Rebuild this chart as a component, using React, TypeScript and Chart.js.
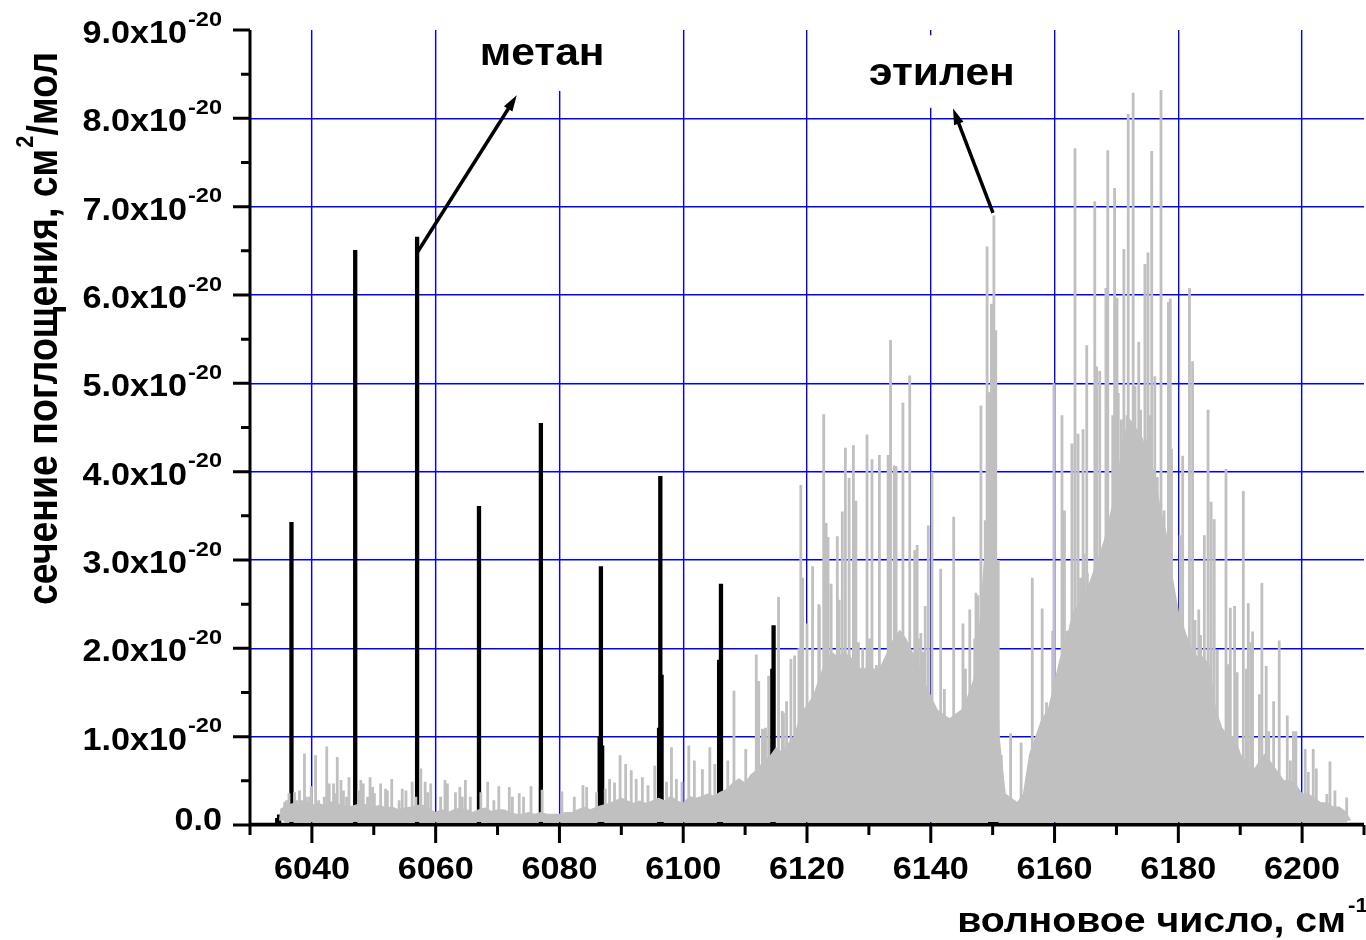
import { useEffect, useRef } from "react";
import { Chart, registerables } from "chart.js";

Chart.register(...registerables);

// ---------- axis ticks / labels ----------
const xTickValues = [6040, 6060, 6080, 6100, 6120, 6140, 6160, 6180, 6200];
const xTickLabels = ["6040", "6060", "6080", "6100", "6120", "6140", "6160", "6180", "6200"];
const yTickValues = [0, 1, 2, 3, 4, 5, 6, 7, 8, 9];
const yTickLabels = ["0.0", "1.0x10", "2.0x10", "3.0x10", "4.0x10", "5.0x10", "6.0x10", "7.0x10", "8.0x10", "9.0x10"];
const yTickExponent = "-20";
const xTitle = "волновое число, см";
const xTitleSup = "-1";
const yTitleA = "сечение поглощения, см";
const yTitleSup = "2";
const yTitleB = "/мол";

// ---------- methane (black) lines, units of 1e-20 ----------
const methaneX = [6034.4, 6034.7, 6036.7, 6047.0, 6057.0, 6067.0, 6077.0, 6086.5, 6086.7, 6086.9, 6096.1, 6096.3, 6096.5, 6105.8, 6106.1, 6114.4, 6114.6, 6149.6, 6150.1, 6150.6];
const methaneY = [0.08, 0.12, 3.43, 6.51, 6.66, 3.61, 4.55, 1.0, 2.93, 0.9, 1.1, 3.95, 1.7, 1.87, 2.73, 1.77, 2.26, 0.14, 0.19, 0.13];

// ---------- ethylene (grey) strong peaks ----------
const ethylenePeakX = [
  6035.6, 6036.3, 6037.2, 6038.0, 6038.8, 6039.6, 6039.9, 6040.6, 6042.4, 6043.5, 6044.1, 6044.7, 6046.0,
  6047.6, 6048.3, 6049.0, 6049.4, 6050.1, 6051.1, 6051.9, 6052.9, 6054.6, 6056.2, 6057.6, 6058.3, 6059.2,
  6060.8, 6061.5, 6063.2, 6063.9, 6064.8, 6065.6, 6067.3, 6068.4, 6070.2, 6071.9, 6073.5, 6075.4, 6077.2,
  6080.4, 6082.4, 6083.8, 6084.4, 6086.0, 6087.4, 6088.1, 6088.9, 6089.8, 6090.7, 6091.6, 6092.4, 6093.4,
  6094.3, 6095.4, 6097.3, 6098.1, 6098.9, 6099.8, 6100.9, 6101.8, 6103.1, 6104.3, 6105.1, 6107.2, 6108.2,
  6110.1, 6111.8, 6112.2, 6112.8, 6113.3, 6113.8, 6115.4, 6116.2, 6116.7, 6118.0, 6119.0, 6119.3, 6120.0,
  6120.9, 6122.0, 6122.7, 6123.1, 6123.4, 6123.9, 6124.9, 6125.7, 6126.2, 6126.8, 6127.5, 6127.9, 6129.0,
  6129.7, 6130.5, 6131.7, 6132.3, 6133.1, 6133.5, 6134.4, 6135.5, 6136.6, 6137.4, 6137.8, 6138.4, 6139.6,
  6140.2, 6141.6, 6143.7, 6145.2, 6146.3, 6147.3, 6148.1, 6148.8, 6149.1, 6149.5, 6149.8, 6150.2, 6150.5,
  6150.9, 6151.4, 6152.9, 6154.6, 6156.4, 6158.0, 6159.7, 6159.9, 6161.2, 6161.6, 6162.3, 6162.8, 6163.3,
  6163.8, 6164.6, 6165.2, 6166.5, 6167.3, 6168.3, 6168.6, 6169.7, 6170.1, 6171.2, 6171.9, 6172.7, 6173.6,
  6174.6, 6175.1, 6175.7, 6177.2, 6178.4, 6178.7, 6180.7, 6181.8, 6182.3, 6183.3, 6184.2, 6184.8, 6185.3,
  6185.8, 6187.7, 6188.4, 6189.1, 6190.5, 6191.3, 6192.0, 6193.5, 6194.2, 6195.4, 6196.3, 6197.6, 6199.0,
  6200.5, 6201.8, 6204.5, 6207.2,
];
const ethylenePeakY = [
  0.26, 0.36, 0.37, 0.39, 0.81, 0.32, 0.44, 0.79, 0.89, 0.47, 0.77, 0.51, 0.54,
  0.39, 0.47, 0.32, 0.54, 0.36, 0.47, 0.41, 0.52, 0.41, 0.49, 0.64, 0.49, 0.47,
  0.32, 0.51, 0.37, 0.43, 0.51, 0.32, 0.37, 0.49, 0.44, 0.43, 0.36, 0.44, 0.40,
  0.38, 0.32, 0.45, 0.43, 0.37, 0.41, 0.52, 0.48, 0.79, 0.69, 0.62, 0.52, 0.54,
  0.45, 0.67, 0.49, 0.88, 0.52, 0.49, 0.90, 0.73, 0.63, 0.88, 0.69, 0.73, 1.52,
  0.86, 1.93, 1.63, 1.09, 1.10, 1.69, 2.58, 1.27, 1.40, 1.92, 3.85, 2.80, 2.28,
  2.93, 2.48, 4.65, 3.42, 3.26, 2.73, 3.27, 3.55, 4.27, 3.93, 4.30, 3.67, 2.00,
  4.42, 4.14, 4.19, 1.77, 4.19, 5.49, 4.06, 4.78, 5.09, 3.11, 3.17, 2.17, 3.39,
  4.00, 2.90, 3.49, 2.28, 2.44, 2.63, 4.75, 3.45, 6.55, 4.90, 5.90, 6.90, 5.60,
  3.00, 0.79, 1.04, 0.93, 2.80, 2.45, 2.20, 5.00, 4.64, 3.56, 2.20, 4.32, 7.66,
  4.43, 4.48, 5.43, 7.06, 5.14, 6.08, 7.64, 7.21, 5.97, 6.52, 8.05, 8.29, 5.47,
  6.35, 6.48, 7.63, 8.32, 5.92, 5.96, 4.18, 6.08, 5.25, 2.44, 3.28, 4.70, 3.66,
  3.46, 4.03, 2.46, 2.48, 3.78, 2.51, 2.19, 2.74, 1.80, 1.40, 2.09, 1.24, 1.06,
  0.86, 0.86, 0.72, 0.31,
];

// ---------- ethylene (grey) weaker peaks ----------
const ethyleneMinorX = [
  6035.9, 6037.5, 6038.4, 6039.1, 6041.1, 6042.0, 6042.8, 6043.9, 6045.1, 6045.6, 6047.9, 6049.8, 6052.2,
  6054.1, 6055.2, 6056.8, 6058.7, 6061.9, 6064.3, 6069.4, 6072.4, 6074.2,
  6113.1, 6116.0, 6117.4, 6118.7, 6120.4, 6121.9, 6124.2, 6125.2, 6128.3, 6130.1, 6131.2, 6134.1, 6134.6,
  6135.0, 6138.0, 6138.8, 6139.1, 6142.2, 6145.6, 6147.1, 6147.6,
  6158.7, 6160.8, 6162.0, 6164.2, 6164.8, 6165.3, 6165.9, 6166.8, 6167.6, 6168.0, 6169.0, 6169.4, 6170.3,
  6170.8, 6171.7, 6172.5, 6173.0, 6173.9, 6174.3, 6174.8, 6175.4, 6176.2, 6176.6, 6177.7, 6178.1, 6178.9,
  6180.3, 6181.1, 6182.7, 6183.6, 6186.3, 6188.1, 6189.5, 6191.0, 6191.7, 6193.1, 6194.6, 6198.1, 6198.6,
  6201.0, 6202.3, 6204.0, 6205.3,
];
const ethyleneMinorY = [
  0.28, 0.28, 0.28, 0.32, 0.28, 0.32, 0.47, 0.36, 0.39, 0.32, 0.51, 0.43, 0.39,
  0.28, 0.39, 0.32, 0.37, 0.47, 0.32, 0.28, 0.32, 0.32,
  1.08, 1.29, 1.88, 2.00, 1.38, 2.50, 1.88, 2.55, 2.07, 2.11, 1.81, 4.07, 2.11,
  2.15, 2.11, 1.96, 2.48, 1.54, 1.77, 2.11, 2.60,
  1.39, 1.82, 2.20, 2.80, 3.07, 2.85, 2.58, 5.19, 2.96, 3.18, 2.80, 4.64, 4.89,
  4.59, 4.64, 4.32, 4.97, 4.70, 3.94, 4.37, 4.64, 5.08, 3.94, 3.56, 2.75, 4.26,
  3.28, 2.15, 2.32, 2.15, 1.98, 1.82, 1.73, 1.77, 2.07, 1.48, 1.06, 0.73, 1.06,
  0.60, 0.64, 0.35, 0.39,
];

// ---------- ethylene dense band (unresolved lines), read at 1 cm-1 ----------
const ethyleneBandX = [
  6034.8, 6035, 6036, 6037, 6038, 6039, 6040, 6041, 6042, 6043, 6044, 6045, 6046, 6047, 6048, 6049,
  6050, 6051, 6052, 6053, 6054, 6055, 6056, 6057, 6058, 6059, 6060, 6061, 6062, 6063, 6064, 6065,
  6066, 6067, 6068, 6069, 6070, 6071, 6072, 6073, 6074, 6075, 6076, 6077, 6078, 6079, 6080, 6081,
  6082, 6083, 6084, 6085, 6086, 6087, 6088, 6089, 6090, 6091, 6092, 6093, 6094, 6095, 6096, 6097,
  6098, 6099, 6100, 6101, 6102, 6103, 6104, 6105, 6106, 6107, 6108, 6109, 6110, 6111, 6112, 6113,
  6114, 6115, 6116, 6117, 6118, 6119, 6120, 6121, 6122, 6123, 6124, 6125, 6126, 6127, 6128, 6129,
  6130, 6131, 6132, 6133, 6134, 6135, 6136, 6137, 6138, 6139, 6140, 6141, 6142, 6143, 6144, 6145,
  6146, 6147, 6148, 6149, 6150, 6151, 6152, 6153, 6154, 6155, 6156, 6157, 6158, 6159, 6160, 6161,
  6162, 6163, 6164, 6165, 6166, 6167, 6168, 6169, 6170, 6171, 6172, 6173, 6174, 6175, 6176, 6177,
  6178, 6179, 6180, 6181, 6182, 6183, 6184, 6185, 6186, 6187, 6188, 6189, 6190, 6191, 6192, 6193,
  6194, 6195, 6196, 6197, 6198, 6199, 6200, 6201, 6202, 6203, 6204, 6205, 6206, 6207, 6207.8,
];
const ethyleneBandY = [
  0.05, 0.18, 0.22, 0.24, 0.22, 0.26, 0.22, 0.24, 0.22, 0.26, 0.24, 0.22, 0.2, 0.22, 0.24, 0.22,
  0.2, 0.22, 0.19, 0.2, 0.17, 0.19, 0.2, 0.22, 0.22, 0.17, 0.14, 0.17, 0.14, 0.17, 0.19, 0.17,
  0.14, 0.17, 0.19, 0.15, 0.17, 0.17, 0.14, 0.12, 0.12, 0.14, 0.12, 0.14, 0.12, 0.12, 0.12, 0.14,
  0.14, 0.17, 0.2, 0.17, 0.2, 0.22, 0.24, 0.27, 0.3, 0.27, 0.24, 0.27, 0.24, 0.27, 0.3, 0.27,
  0.32, 0.27, 0.24, 0.32, 0.3, 0.32, 0.35, 0.32, 0.37, 0.4, 0.47, 0.52, 0.47, 0.57, 0.62, 0.72,
  0.77, 0.87, 0.82, 0.92, 1.0, 1.25, 1.35, 1.45, 1.65, 1.85, 1.95, 1.9, 1.95, 1.9, 1.8, 1.75,
  1.8, 1.75, 1.8, 1.95, 2.1, 2.2, 2.1, 1.95, 1.8, 1.6, 1.45, 1.3, 1.25, 1.2, 1.25, 1.3,
  1.45, 1.65, 2.3, 3.3, 3.8, 1.0, 0.35, 0.3, 0.25, 0.35, 0.8, 1.0, 1.2, 1.3, 1.6, 1.9,
  2.1, 2.4, 2.5, 2.6, 2.8, 3.0, 3.2, 3.5, 3.8, 4.3, 4.6, 4.5, 4.4, 4.2, 4.0, 3.6,
  3.3, 2.8, 2.4, 2.2, 2.0, 1.9, 1.9, 1.8, 1.3, 1.1, 1.0, 1.0, 0.8, 0.7, 0.6, 0.7,
  0.8, 0.7, 0.6, 0.5, 0.5, 0.45, 0.35, 0.35, 0.3, 0.25, 0.25, 0.2, 0.2, 0.15, 0.05,
];
const ethyleneBase = 0.05;

// ---------- annotations (data coordinates) ----------
const annotationLabels = ["метан", "этилен"];
const annotationLabelX = [6077.2, 6141.8];
const annotationLabelY = [8.6, 8.38];
const annotationBoxX0 = [6064.5, 6127.8];
const annotationBoxX1 = [6090.0, 6156.0];
const annotationBoxY0 = [8.31, 8.12];
const annotationBoxY1 = [9.1, 8.94];
const arrowFromX = [6057.1, 6150.05];
const arrowFromY = [6.49, 6.93];
const arrowToX = [6073.1, 6143.6];
const arrowToY = [8.26, 8.11];

const X_MIN = 6030;
const X_MAX = 6210;
const Y_MIN = 0;
const Y_MAX = 9;

const BLUE = "#0000ff";
const GREY = "#c0c0c0";
const FONT = '"Liberation Sans", Arial, sans-serif';
const STRETCH = 1.12;

function spikes(xs: number[], ys: number[], base: number) {
  const pts: { x: number; y: number }[] = [];
  for (let i = 0; i < xs.length; i++) {
    pts.push({ x: xs[i], y: base }, { x: xs[i], y: ys[i] }, { x: xs[i], y: base });
  }
  return pts;
}

function drawText(
  ctx: CanvasRenderingContext2D,
  s: string,
  x: number,
  y: number,
  size: number,
  align: "left" | "center" | "right"
) {
  ctx.save();
  ctx.font = `bold ${size}px ${FONT}`;
  ctx.textBaseline = "alphabetic";
  ctx.textAlign = "left";
  const w = ctx.measureText(s).width * STRETCH;
  const x0 = align === "center" ? x - w / 2 : align === "right" ? x - w : x;
  ctx.translate(x0, y);
  ctx.scale(STRETCH, 1);
  ctx.fillStyle = "#000";
  ctx.fillText(s, 0, 0);
  ctx.restore();
  return w;
}

function measure(ctx: CanvasRenderingContext2D, s: string, size: number) {
  ctx.save();
  ctx.font = `bold ${size}px ${FONT}`;
  const w = ctx.measureText(s).width;
  ctx.restore();
  return w;
}

function drawArrow(ctx: CanvasRenderingContext2D, x0: number, y0: number, x1: number, y1: number) {
  const dx = x1 - x0;
  const dy = y1 - y0;
  const len = Math.hypot(dx, dy);
  const ux = dx / len;
  const uy = dy / len;
  const head = 16;
  const half = 5;
  const bx = x1 - ux * head;
  const by = y1 - uy * head;
  ctx.save();
  ctx.strokeStyle = "#000";
  ctx.fillStyle = "#000";
  ctx.lineWidth = 3.5;
  ctx.lineCap = "butt";
  ctx.beginPath();
  ctx.moveTo(x0, y0);
  ctx.lineTo(bx + ux * 2, by + uy * 2);
  ctx.stroke();
  ctx.beginPath();
  ctx.moveTo(x1, y1);
  ctx.lineTo(bx - uy * half, by + ux * half);
  ctx.lineTo(bx + uy * half, by - ux * half);
  ctx.closePath();
  ctx.fill();
  ctx.restore();
}

const decorPlugin = {
  id: "decor",
  beforeDatasetsDraw(chart: any) {
    const { ctx } = chart;
    const xs = chart.scales.x;
    const ys = chart.scales.y;
    ctx.save();
    ctx.fillStyle = "#ffffff";
    for (let i = 0; i < annotationBoxX0.length; i++) {
      const a = xs.getPixelForValue(annotationBoxX0[i]);
      const b = xs.getPixelForValue(annotationBoxX1[i]);
      const c = ys.getPixelForValue(annotationBoxY1[i]);
      const d = ys.getPixelForValue(annotationBoxY0[i]);
      ctx.fillRect(a, c, b - a, d - c);
    }
    ctx.restore();
  },
  afterDraw(chart: any) {
    const { ctx, chartArea } = chart;
    const xs = chart.scales.x;
    const ys = chart.scales.y;
    const L = chartArea.left;
    const B = chartArea.bottom;
    const T = chartArea.top;
    const R = chartArea.right;

    ctx.save();
    ctx.strokeStyle = "#000";
    ctx.lineWidth = 3;
    ctx.lineCap = "butt";
    ctx.beginPath();
    ctx.moveTo(L, T);
    ctx.lineTo(L, B + 1.5);
    ctx.moveTo(L - 1.5, B);
    ctx.lineTo(R, B);
    ctx.stroke();

    ctx.beginPath();
    xs.ticks.forEach((t: any) => {
      const px = xs.getPixelForValue(t.value);
      const major = Math.abs(t.value % 20) < 1e-6;
      ctx.moveTo(px, B);
      ctx.lineTo(px, B + (major ? 18 : 10));
    });
    ys.ticks.forEach((t: any) => {
      const py = ys.getPixelForValue(t.value);
      const major = Math.abs(t.value - Math.round(t.value)) < 1e-6;
      ctx.moveTo(L, py);
      ctx.lineTo(L - (major ? 17 : 9), py);
    });
    ctx.stroke();
    ctx.restore();

    // x tick labels
    for (let i = 0; i < xTickValues.length; i++) {
      drawText(ctx, xTickLabels[i], xs.getPixelForValue(xTickValues[i]), B + 54, 30.5, "center");
    }
    // y tick labels
    const labelRight = L - 28;
    for (let i = 0; i < yTickValues.length; i++) {
      const py = ys.getPixelForValue(yTickValues[i]);
      if (yTickValues[i] === 0) {
        drawText(ctx, yTickLabels[i], labelRight, py + 4.5, 30.5, "right");
      } else {
        const wm = measure(ctx, yTickLabels[i], 30.5) * STRETCH;
        const ws = measure(ctx, yTickExponent, 21) * STRETCH;
        const start = labelRight - wm - ws - 1;
        drawText(ctx, yTickLabels[i], start, py + 13, 30.5, "left");
        drawText(ctx, yTickExponent, start + wm + 1, py - 4.5, 21, "left");
      }
    }

    // x title
    drawText(ctx, xTitle, 1346, 932, 35, "right");
    drawText(ctx, xTitleSup, 1348, 912, 20, "left");

    // y title (rotated)
    {
      const size = 37.5;
      const supSize = 22;
      const wa = measure(ctx, yTitleA, size);
      const wsup = measure(ctx, yTitleSup, supSize);
      const wb = measure(ctx, yTitleB, size);
      const total = wa + wsup + wb;
      const centerY = 329;
      ctx.save();
      ctx.translate(57, centerY);
      ctx.scale(STRETCH, 1);
      ctx.rotate(-Math.PI / 2);
      ctx.fillStyle = "#000";
      ctx.textBaseline = "alphabetic";
      ctx.textAlign = "left";
      const s0 = -total / 2;
      ctx.font = `bold ${size}px ${FONT}`;
      ctx.fillText(yTitleA, s0, 0);
      ctx.font = `bold ${supSize}px ${FONT}`;
      ctx.fillText(yTitleSup, s0 + wa + 1, -21);
      ctx.font = `bold ${size}px ${FONT}`;
      ctx.fillText(yTitleB, s0 + wa + wsup + 1, 0);
      ctx.restore();
    }

    // annotations
    for (let i = 0; i < annotationLabels.length; i++) {
      drawText(
        ctx,
        annotationLabels[i],
        xs.getPixelForValue(annotationLabelX[i]),
        ys.getPixelForValue(annotationLabelY[i]),
        38,
        "center"
      );
      drawArrow(
        ctx,
        xs.getPixelForValue(arrowFromX[i]),
        ys.getPixelForValue(arrowFromY[i]),
        xs.getPixelForValue(arrowToX[i]),
        ys.getPixelForValue(arrowToY[i])
      );
    }
  },
};

export default function App() {
  const canvasRef = useRef<HTMLCanvasElement | null>(null);

  useEffect(() => {
    const canvas = canvasRef.current;
    if (!canvas) return;

    const methanePts = [{ x: X_MIN, y: 0 }, ...spikes(methaneX, methaneY, 0), { x: X_MAX, y: 0 }];
    const ethylenePeakPts = spikes(ethylenePeakX, ethylenePeakY, ethyleneBase);
    const ethyleneMinorPts = spikes(ethyleneMinorX, ethyleneMinorY, ethyleneBase);
    const bandPts = ethyleneBandX.map((x, i) => ({ x, y: ethyleneBandY[i] }));

    const greyLine = {
      borderColor: GREY,
      borderWidth: 2.8,
      pointRadius: 0,
      tension: 0,
      fill: false,
      borderJoinStyle: "bevel",
    };

    const chart = new Chart(canvas, {
      type: "line",
      data: {
        datasets: [
          { label: "этилен (сильные линии)", data: ethylenePeakPts, ...greyLine, order: 0 },
          { label: "этилен (слабые линии)", data: ethyleneMinorPts, ...greyLine, order: 1 },
          {
            label: "этилен",
            data: bandPts,
            borderColor: GREY,
            backgroundColor: GREY,
            borderWidth: 1.5,
            pointRadius: 0,
            tension: 0,
            fill: { value: ethyleneBase },
            borderJoinStyle: "bevel",
            order: 2,
          },
          {
            label: "метан",
            data: methanePts,
            borderColor: "#000000",
            borderWidth: 4.3,
            pointRadius: 0,
            tension: 0,
            fill: false,
            borderJoinStyle: "bevel",
            order: 3,
          },
        ],
      } as any,
      options: {
        animation: false,
        responsive: false,
        events: [],
        layout: { padding: { left: 0, top: 30, right: 2, bottom: 0 } },
        plugins: {
          legend: { display: false },
          tooltip: { enabled: false },
          title: { display: false },
        },
        scales: {
          x: {
            type: "linear",
            min: X_MIN,
            max: X_MAX,
            ticks: { stepSize: 10, display: false },
            grid: {
              color: (c: any) => {
                const v = c.tick ? c.tick.value : NaN;
                return Math.abs(v % 20) < 1e-6 && v > X_MIN && v < X_MAX ? BLUE : "rgba(0,0,0,0)";
              },
              lineWidth: 1.4,
              drawTicks: false,
            },
            border: { display: false },
            afterFit: (s: any) => {
              s.height = 115;
            },
          },
          y: {
            type: "linear",
            min: Y_MIN,
            max: Y_MAX,
            ticks: { stepSize: 0.5, display: false },
            grid: {
              color: (c: any) => {
                const v = c.tick ? c.tick.value : NaN;
                return Math.abs(v - Math.round(v)) < 1e-6 && v > Y_MIN && v < Y_MAX ? BLUE : "rgba(0,0,0,0)";
              },
              lineWidth: 1.4,
              drawTicks: false,
            },
            border: { display: false },
            afterFit: (s: any) => {
              s.width = 250;
            },
          },
        },
      } as any,
      plugins: [decorPlugin],
    });

    return () => chart.destroy();
  }, []);

  return (
    <div style={{ position: "fixed", left: 0, top: 0, width: 1366, height: 940, background: "#fff" }}>
      <canvas ref={canvasRef} width={1366} height={940} style={{ display: "block" }} />
    </div>
  );
}
